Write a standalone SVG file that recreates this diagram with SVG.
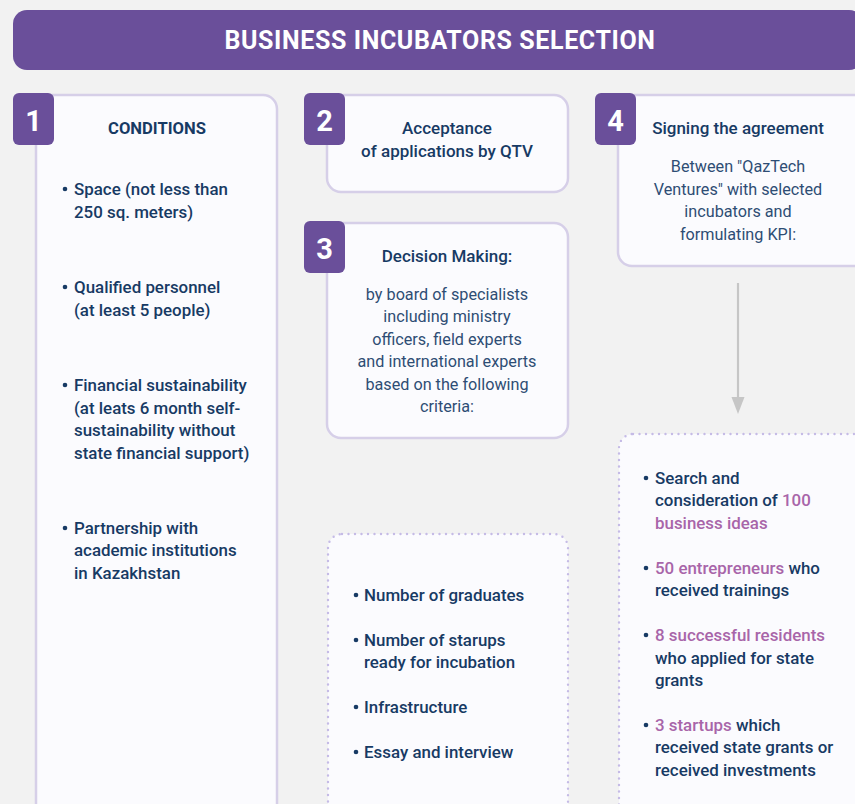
<svg xmlns="http://www.w3.org/2000/svg" width="855" height="804" viewBox="0 0 855 804">
  <defs>
    <style>
      .bg { fill: #f2f2f2; }
      .card { fill: #fbfbfe; stroke: #d6cfe8; stroke-width: 2.5; }
      .dots { fill: #fbfbfe; stroke: #c5bbe6; stroke-width: 2.4; stroke-dasharray: 0 6.5; stroke-linecap: round; }
      .badge { fill: #6a4f9a; }
      .num { font-family: Roboto, "Liberation Sans", sans-serif; font-weight: 700; font-size: 29px; fill: #ffffff; text-anchor: middle; }
      .title { font-family: Roboto, "Liberation Sans", sans-serif; font-weight: 700; font-size: 25px; fill: #ffffff; text-anchor: middle; letter-spacing: 0.6px; }
      .head { font-family: Roboto, "Liberation Sans", sans-serif; font-weight: 500; font-size: 17px; fill: #173a64; text-anchor: middle; }
      .caps { font-weight: 700; font-size: 16.6px; }
      .body { font-family: Roboto, "Liberation Sans", sans-serif; font-weight: 400; font-size: 16.2px; fill: #2e4d74; text-anchor: middle; }
      .item { font-family: Roboto, "Liberation Sans", sans-serif; font-weight: 500; font-size: 16.9px; fill: #173a64; }
      .hl { fill: #a865a9; }
      .dot { fill: #173a64; }
      .link { stroke: #c6c6c6; stroke-width: 2.2; fill: none; }
      .tip { fill: #c6c6c6; }
    </style>
  </defs>

  <rect class="bg" x="0" y="0" width="855" height="804"/>

  <!-- header banner -->
  <g id="header">
    <rect x="13" y="10" width="850" height="60" rx="14" fill="#6a4f9a"/>
    <text class="title" x="440" y="49">BUSINESS INCUBATORS SELECTION</text>
  </g>

  <!-- step 1: conditions -->
  <g id="step1">
    <rect class="card" x="36" y="95" width="241" height="730" rx="14"/>
    <rect class="badge" x="13" y="93" width="41" height="52" rx="6"/>
    <text class="num" x="33.5" y="131">1</text>
    <text class="head caps" x="157" y="134">CONDITIONS</text>
    <circle class="dot" cx="65" cy="189" r="2.3"/>
    <text class="item" x="74" y="195">Space (not less than</text>
    <text class="item" x="74" y="218">250 sq. meters)</text>
    <circle class="dot" cx="65" cy="287" r="2.3"/>
    <text class="item" x="74" y="293">Qualified personnel</text>
    <text class="item" x="74" y="316">(at least 5 people)</text>
    <circle class="dot" cx="65" cy="385" r="2.3"/>
    <text class="item" x="74" y="391">Financial sustainability</text>
    <text class="item" x="74" y="414">(at leats 6 month self-</text>
    <text class="item" x="74" y="436">sustainability without</text>
    <text class="item" x="74" y="459">state financial support)</text>
    <circle class="dot" cx="65" cy="528" r="2.3"/>
    <text class="item" x="74" y="534">Partnership with</text>
    <text class="item" x="74" y="556">academic institutions</text>
    <text class="item" x="74" y="579">in Kazakhstan</text>
  </g>

  <!-- step 2: applications -->
  <g id="step2">
    <rect class="card" x="327" y="95" width="241" height="97" rx="14"/>
    <rect class="badge" x="304" y="93" width="41" height="52" rx="6"/>
    <text class="num" x="324.5" y="131">2</text>
    <text class="head" x="447" y="134">Acceptance</text>
    <text class="head" x="447" y="157">of applications by QTV</text>
  </g>

  <!-- step 3: decision making -->
  <g id="step3">
    <rect class="card" x="327" y="223" width="241" height="215" rx="14"/>
    <rect class="badge" x="304" y="221" width="41" height="52" rx="6"/>
    <text class="num" x="324.5" y="259">3</text>
    <text class="head" x="447" y="262">Decision Making:</text>
    <text class="body" x="447" y="300">by board of specialists</text>
    <text class="body" x="447" y="322">including ministry</text>
    <text class="body" x="447" y="345">officers, field experts</text>
    <text class="body" x="447" y="367">and international experts</text>
    <text class="body" x="447" y="390">based on the following</text>
    <text class="body" x="447" y="412">criteria:</text>
  </g>

  <!-- step 3 criteria -->
  <g id="criteria">
    <rect class="dots" x="328" y="534" width="240" height="300" rx="14"/>
    <circle class="dot" cx="356" cy="595" r="2.3"/>
    <text class="item" x="364" y="601">Number of graduates</text>
    <circle class="dot" cx="356" cy="640" r="2.3"/>
    <text class="item" x="364" y="646">Number of starups</text>
    <text class="item" x="364" y="668">ready for incubation</text>
    <circle class="dot" cx="356" cy="707" r="2.3"/>
    <text class="item" x="364" y="713">Infrastructure</text>
    <circle class="dot" cx="356" cy="752" r="2.3"/>
    <text class="item" x="364" y="758">Essay and interview</text>
  </g>

  <!-- step 4: agreement -->
  <g id="step4">
    <rect class="card" x="618" y="95" width="250" height="171" rx="14"/>
    <rect class="badge" x="595" y="93" width="41" height="52" rx="6"/>
    <text class="num" x="615.5" y="131">4</text>
    <text class="head" x="738" y="134">Signing the agreement</text>
    <text class="body" x="738" y="172">Between "QazTech</text>
    <text class="body" x="738" y="195">Ventures" with selected</text>
    <text class="body" x="738" y="217">incubators and</text>
    <text class="body" x="738" y="240">formulating KPI:</text>
  </g>

  <!-- step 4 KPI results -->
  <g id="kpi">
    <rect class="dots" x="619" y="434" width="250" height="400" rx="14"/>
    <circle class="dot" cx="646" cy="478" r="2.3"/>
    <text class="item" x="655" y="484">Search and</text>
    <text class="item" x="655" y="506">consideration of <tspan class="hl">100</tspan></text>
    <text class="item hl" x="655" y="529">business ideas</text>
    <circle class="dot" cx="646" cy="568" r="2.3"/>
    <text class="item" x="655" y="574"><tspan class="hl">50 entrepreneurs</tspan> who</text>
    <text class="item" x="655" y="596">received trainings</text>
    <circle class="dot" cx="646" cy="635" r="2.3"/>
    <text class="item hl" x="655" y="641">8 successful residents</text>
    <text class="item" x="655" y="664">who applied for state</text>
    <text class="item" x="655" y="686">grants</text>
    <circle class="dot" cx="646" cy="725" r="2.3"/>
    <text class="item" x="655" y="731"><tspan class="hl">3 startups</tspan> which</text>
    <text class="item" x="655" y="753">received state grants or</text>
    <text class="item" x="655" y="776">received investments</text>
  </g>

  <!-- connectors -->
  <g id="connectors">
    <line class="link" x1="738" y1="283" x2="738" y2="400"/>
    <polygon class="tip" points="731.5,397 744.5,397 738,414"/>
  </g>
</svg>
